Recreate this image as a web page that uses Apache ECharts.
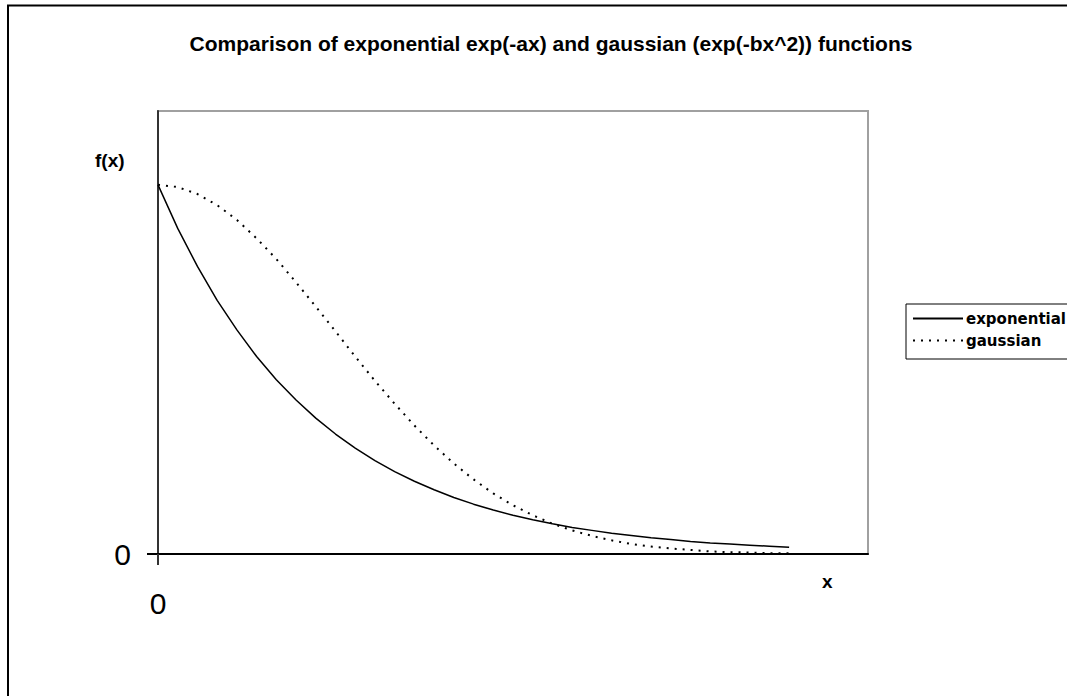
<!DOCTYPE html>
<html>
<head>
<meta charset="utf-8">
<style>
html,body{margin:0;padding:0;background:#fff;}
#chart{width:1067px;height:696px;}
</style>
<script src="https://cdn.jsdelivr.net/npm/echarts@6/dist/echarts.min.js"></script>
</head>
<body>
<div id="chart"></div>
<script>
// x positions (units of the x axis)
var xValues = [0, 0.25, 0.5, 0.75, 1, 1.25, 1.5, 1.75, 2, 2.25, 2.5, 2.75, 3, 3.25, 3.5, 3.75, 4,
  4.25, 4.5, 4.75, 5, 5.25, 5.5, 5.75, 6, 6.25, 6.5, 6.75, 7, 7.25, 7.5, 7.75, 8];
// exponential exp(-ax), values
var exponentialValues = [1.000, 0.882, 0.779, 0.687, 0.607, 0.535, 0.472, 0.417, 0.368, 0.325, 0.287,
  0.253, 0.223, 0.197, 0.174, 0.153, 0.135, 0.119, 0.105, 0.093, 0.082, 0.072, 0.064, 0.056, 0.050,
  0.044, 0.039, 0.034, 0.030, 0.027, 0.024, 0.021, 0.018];
// gaussian exp(-bx^2), values
var gaussianValues = [1.000, 0.994, 0.975, 0.945, 0.905, 0.855, 0.799, 0.736, 0.670, 0.603, 0.535,
  0.469, 0.407, 0.348, 0.294, 0.245, 0.202, 0.164, 0.132, 0.105, 0.082, 0.064, 0.049, 0.037, 0.027,
  0.020, 0.015, 0.011, 0.007, 0.005, 0.004, 0.002, 0.002];
var xTickLabels = [0];
var yTickLabels = [0];

function pairs(xs, ys) { return xs.map(function (x, i) { return [x, ys[i]]; }); }

var chart = echarts.init(document.getElementById('chart'), null, { renderer: 'svg' });
chart.setOption({
  animation: false,
  backgroundColor: '#fff',
  title: {
    text: 'Comparison of exponential exp(-ax) and gaussian (exp(-bx^2)) functions',
    left: 546, textAlign: 'center', top: 28,
    textStyle: { fontFamily: 'Liberation Sans, Arial', fontWeight: 'bold', fontSize: 21, color: '#000' }
  },
  legend: {
    orient: 'vertical', left: 906, top: 304,
    padding: [7, 4, 11, 6], itemGap: 7, itemWidth: 50, itemHeight: 12,
    borderColor: '#000', borderWidth: 1,
    itemStyle: { opacity: 0 },
    textStyle: { fontFamily: 'DejaVu Sans', fontWeight: 'bold', fontSize: 15, color: '#000', padding: [0, 0, 0, -2] },
    data: ['exponential', 'gaussian']
  },
  grid: {
    left: 158, top: 111, right: 199, bottom: 142,
    show: true, borderColor: '#a0a0a0', borderWidth: 2, backgroundColor: '#fff'
  },
  xAxis: {
    type: 'value', min: 0, max: 9, interval: 9,
    axisLine: { show: true, onZero: false, lineStyle: { color: '#000', width: 2 } },
    axisTick: { show: true, length: 11, lineStyle: { color: '#333', width: 2 }, customValues: xTickLabels },
    axisLabel: { show: true, margin: 34, customValues: xTickLabels,
      fontFamily: 'Liberation Sans, Arial', fontSize: 30, color: '#000' },
    splitLine: { show: false }
  },
  yAxis: {
    type: 'value', min: 0, max: 1.2, interval: 1.2,
    axisLine: { show: true, onZero: false, lineStyle: { color: '#333', width: 2 } },
    axisTick: { show: true, length: 11, lineStyle: { color: '#000', width: 2 }, customValues: yTickLabels },
    axisLabel: { show: true, margin: 27, customValues: yTickLabels,
      fontFamily: 'Liberation Sans, Arial', fontSize: 30, color: '#000' },
    splitLine: { show: false }
  },
  graphic: [
    { type: 'rect', shape: { x: 8, y: 5.5, width: 1100, height: 720 }, style: { fill: 'none', stroke: '#000', lineWidth: 2 }, silent: true, z: -1 },
    { type: 'text', left: 95, top: 151, style: { text: 'f(x)', fontFamily: 'Liberation Sans, Arial', fontWeight: 'bold', fontSize: 19, fill: '#000' } },
    { type: 'text', left: 822, top: 572, style: { text: 'x', fontFamily: 'Liberation Sans, Arial', fontWeight: 'bold', fontSize: 19, fill: '#000' } }
  ],
  series: [
    { name: 'exponential', type: 'line', symbol: 'none', data: pairs(xValues, exponentialValues),
      lineStyle: { color: '#000', width: 1.5, type: 'solid' }, itemStyle: { color: '#000' } },
    { name: 'gaussian', type: 'line', symbol: 'none', data: pairs(xValues, gaussianValues),
      lineStyle: { color: '#000', width: 2, type: [2, 6] }, itemStyle: { color: '#000' } }
  ]
});
</script>
</body>
</html>
